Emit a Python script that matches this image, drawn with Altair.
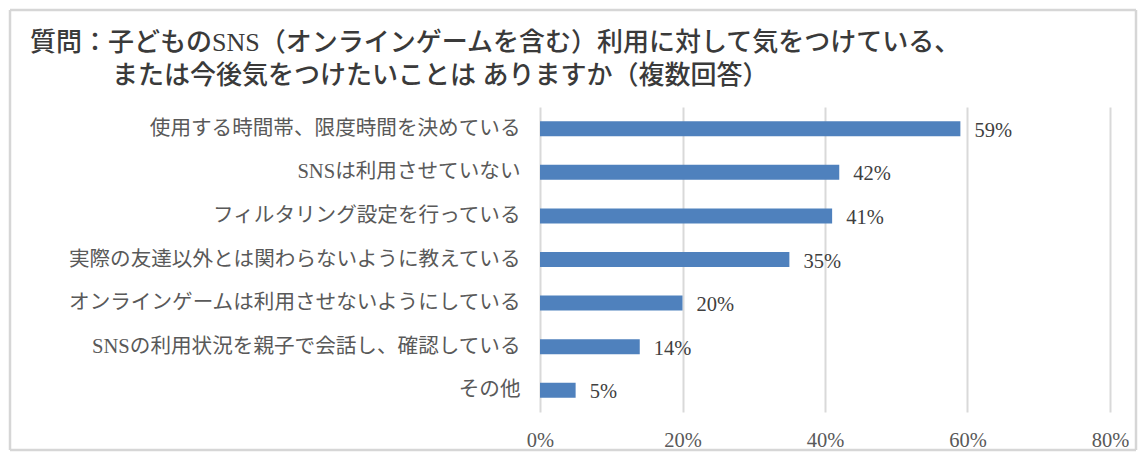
import altair as alt
import pandas as pd

categories = [
    "使用する時間帯、限度時間を決めている",
    "SNSは利用させていない",
    "フィルタリング設定を行っている",
    "実際の友達以外とは関わらないように教えている",
    "オンラインゲームは利用させないようにしている",
    "SNSの利用状況を親子で会話し、確認している",
    "その他",
]
values = [0.59, 0.42, 0.41, 0.35, 0.20, 0.14, 0.05]
value_labels = ["59%", "42%", "41%", "35%", "20%", "14%", "5%"]
x_ticks = [0, 0.2, 0.4, 0.6, 0.8]
title_lines = [
    "質問：子どものSNS（オンラインゲームを含む）利用に対して気をつけている、",
    "または今後気をつけたいことは ありますか（複数回答）",
]

FONT = "Liberation Serif, Noto Sans CJK JP"

df = pd.DataFrame({"cat": categories, "val": values, "lbl": value_labels})

W, H = 570, 305

y_enc = alt.Y(
    "cat:N",
    sort=categories,
    title=None,
    axis=alt.Axis(
        labelFontSize=20.6,
        labelColor="#595959",
        labelFont=FONT,
        labelLimit=600,
        labelPadding=20,
        ticks=False,
        domain=False,
        grid=False,
    ),
)
x_enc = alt.X(
    "val:Q",
    title=None,
    scale=alt.Scale(domain=[0, 0.8], nice=False),
    axis=alt.Axis(
        values=x_ticks,
        format=".0%",
        labelFontSize=20.5,
        labelColor="#595959",
        labelFont=FONT,
        labelPadding=18,
        labelFlush=False,
        ticks=False,
        domain=False,
        grid=True,
        gridColor="#d9d9d9",
        gridWidth=2,
    ),
)

bars = alt.Chart(df).mark_bar(size=15, color="#4f81bd").encode(x=x_enc, y=y_enc)

texts = alt.Chart(df).mark_text(
    align="left", baseline="middle", dx=14, dy=2, fontSize=20.5, font=FONT, color="#404040"
).encode(x="val:Q", y=alt.Y("cat:N", sort=categories), text="lbl:N")

tdf = pd.DataFrame({"t": title_lines, "i": [0, 1]})
t1 = alt.Chart(tdf.iloc[[0]]).mark_text(
    align="left", baseline="middle", fontSize=26, font=FONT, fontWeight=500, color="#3a3a3a"
).encode(x=alt.value(30 - 540), y=alt.value(43 - 107), text="t:N")
t2 = alt.Chart(tdf.iloc[[1]]).mark_text(
    align="left", baseline="middle", fontSize=26, font=FONT, fontWeight=500, color="#3a3a3a"
).encode(x=alt.value(112 - 540), y=alt.value(76 - 107), text="t:N")

# outer chart frame (four sides), kept inside the drawing surface
L, R, T, B = -530, 596, -97, 343
frame = pd.DataFrame({"side": ["top", "bottom", "left", "right"]})
bt = dict(stroke="#d6d6d6", strokeWidth=2.5, clip=False)
f_top = alt.Chart(frame.iloc[[0]]).mark_rule(**bt).encode(
    x=alt.value(L), x2=alt.value(R), y=alt.value(T))
f_bot = alt.Chart(frame.iloc[[1]]).mark_rule(**bt).encode(
    x=alt.value(L), x2=alt.value(R), y=alt.value(B))
f_left = alt.Chart(frame.iloc[[2]]).mark_rule(**bt).encode(
    x=alt.value(L), y=alt.value(T), y2=alt.value(B))
f_right = alt.Chart(frame.iloc[[3]]).mark_rule(**bt).encode(
    x=alt.value(R), y=alt.value(T), y2=alt.value(B))

chart = (
    alt.layer(f_top, f_bot, f_left, f_right, bars, texts, t1, t2)
    .properties(
        width=W,
        height=H,
        background="white",
        padding={"left": 532, "top": 99, "right": 28, "bottom": 40},
        autosize=alt.AutoSizeParams(type="none"),
    )
    .configure_view(stroke="transparent", strokeWidth=0)
)

chart.save("out.html", embed_options={"renderer": "svg", "actions": False})
